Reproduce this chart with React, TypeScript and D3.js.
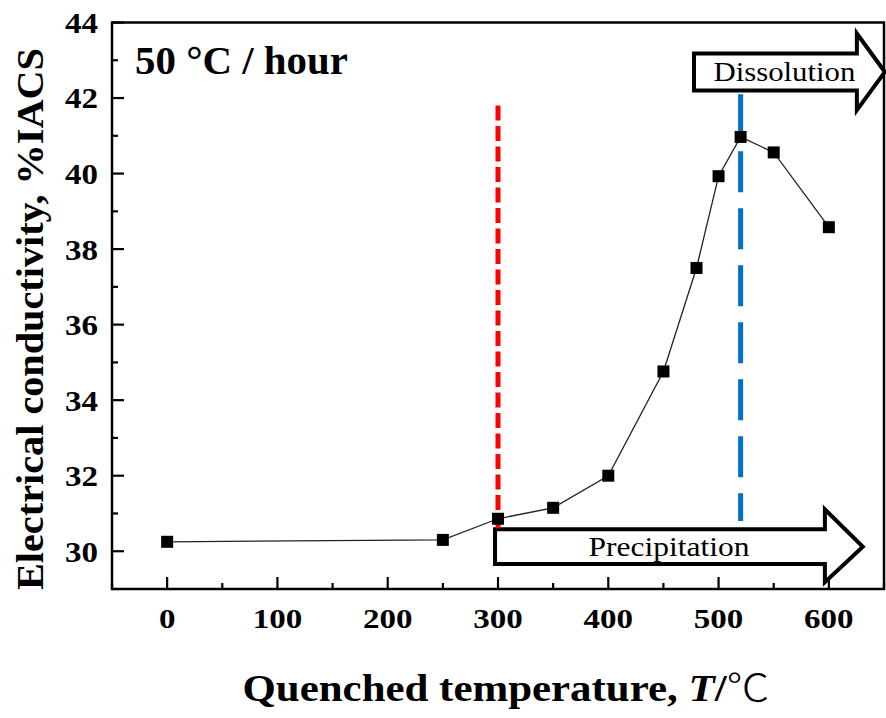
import React from "react";
import * as d3 from "d3";

const temps = [0, 250, 300, 350, 400, 450, 480, 500, 520, 550, 600];
const conductivity = [30.25, 30.3, 30.86, 31.15, 32.0, 34.76, 37.5, 39.93, 40.97, 40.56, 38.58];
const xTicks = [0, 100, 200, 300, 400, 500, 600];
const xMinor = [-50, 50, 150, 250, 350, 450, 550, 650];
const yTicks = [30, 32, 34, 36, 38, 40, 42, 44];
const yMinor = [29, 31, 33, 35, 37, 39, 41, 43];

// annotation lines (data units)
const redLine = { x: 300, y1: 41.8, y2: 30.6 };
const blueLine = { x: 520, y1: 42.1, y2: 30.8 };
// arrows in data units
const precipArrow = { x0: 297.3, xh: 596.4, xt: 630.8, bt: 30.58, bb: 29.66, ht: 31.11, hb: 29.18, label: "Precipitation", tw: 161 };
const dissolArrow = { x0: 477.7, xh: 625.4, xt: 650.8, bt: 43.18, bb: 42.2, ht: 43.71, hb: 41.68, label: "Dissolution", tw: 142 };

const W = 886, H = 718;
const L = 112, R = 884, T = 22.5, B = 589;
const FONT = "'Liberation Serif', 'Times New Roman', serif";

export default function App() {
  const x = d3.scaleLinear().domain([-50, 650]).range([L, R]);
  const y = d3.scaleLinear().domain([29, 44]).range([B, T]);
  const line = d3.line<number>().x((_, i) => x(temps[i])).y((d) => y(d));

  const arrowPath = (a: typeof precipArrow) => {
    const yc = (y(a.bt) + y(a.bb)) / 2;
    return `M${x(a.x0)},${y(a.bt)} L${x(a.xh)},${y(a.bt)} L${x(a.xh)},${y(a.ht)} L${x(a.xt)},${yc} L${x(a.xh)},${y(a.hb)} L${x(a.xh)},${y(a.bb)} L${x(a.x0)},${y(a.bb)} Z`;
  };

  return (
    <svg width={W} height={H} style={{ position: "absolute", left: 0, top: 0, background: "#fff" }} fontFamily={FONT}>
      {/* frame */}
      <rect x={L} y={T} width={R - L} height={B - T} fill="none" stroke="#000" strokeWidth={2.5} />
      {/* y ticks */}
      {yTicks.map((t) => (
        <g key={"y" + t}>
          <line x1={L} x2={L + 12} y1={y(t)} y2={y(t)} stroke="#000" strokeWidth={2.2} />
          <text x={98} y={y(t)} dy="0.36em" textAnchor="end" fontSize={29} fontWeight="bold" textLength={33} lengthAdjust="spacingAndGlyphs">{t}</text>
        </g>
      ))}
      {yMinor.map((t) => (
        <line key={"ym" + t} x1={L} x2={L + 6} y1={y(t)} y2={y(t)} stroke="#000" strokeWidth={2.2} />
      ))}
      {/* x ticks */}
      {xTicks.map((t) => (
        <g key={"x" + t}>
          <line x1={x(t)} x2={x(t)} y1={B} y2={B - 12} stroke="#000" strokeWidth={2.2} />
          <text x={x(t)} y={628} textAnchor="middle" fontSize={28} fontWeight="bold" textLength={String(t).length * 16.5} lengthAdjust="spacingAndGlyphs">{t}</text>
        </g>
      ))}
      {xMinor.map((t) => (
        <line key={"xm" + t} x1={x(t)} x2={x(t)} y1={B} y2={B - 6} stroke="#000" strokeWidth={2.2} />
      ))}
      {/* arrows */}
      {[precipArrow, dissolArrow].map((a) => (
        <g key={a.label}>
          <path d={arrowPath(a)} fill="#fff" stroke="#000" strokeWidth={4} strokeLinejoin="miter" />
          <text x={(x(a.x0) + x(a.xh)) / 2 + 9} y={(y(a.bt) + y(a.bb)) / 2 + 9} textAnchor="middle" fontSize={27} textLength={a.tw} lengthAdjust="spacingAndGlyphs">{a.label}</text>
        </g>
      ))}
      {/* dashed lines */}
      <line x1={x(redLine.x)} x2={x(redLine.x)} y1={y(redLine.y1)} y2={y(redLine.y2)} stroke="#ff0000" strokeWidth={5} strokeDasharray="15,5.5" />
      <line x1={x(blueLine.x)} x2={x(blueLine.x)} y1={y(blueLine.y1)} y2={y(blueLine.y2)} stroke="#0070c0" strokeWidth={5} strokeDasharray="41,16" />
      {/* data */}
      <path d={line(conductivity) || ""} fill="none" stroke="#222" strokeWidth={1.3} />
      {conductivity.map((v, i) => (
        <rect key={i} x={x(temps[i]) - 6} y={y(v) - 6} width={12} height={12} fill="#000" />
      ))}
      {/* title */}
      <text x={135} y={74} fontSize={40} fontWeight="bold" textLength={213} lengthAdjust="spacingAndGlyphs">50 °C / hour</text>
      {/* axis titles */}
      <text x={506} y={701} textAnchor="middle" fontSize={38} fontWeight="bold" textLength={527} lengthAdjust="spacingAndGlyphs">
        Quenched temperature, <tspan fontStyle="italic">T</tspan>/<tspan fontFamily="'Noto Sans CJK SC', sans-serif" fontWeight="300">℃</tspan>
      </text>
      <text transform={`translate(43,${319}) rotate(-90)`} textAnchor="middle" fontSize={38} fontWeight="bold" textLength={542} lengthAdjust="spacingAndGlyphs">
        Electrical conductivity, %IACS
      </text>
    </svg>
  );
}
